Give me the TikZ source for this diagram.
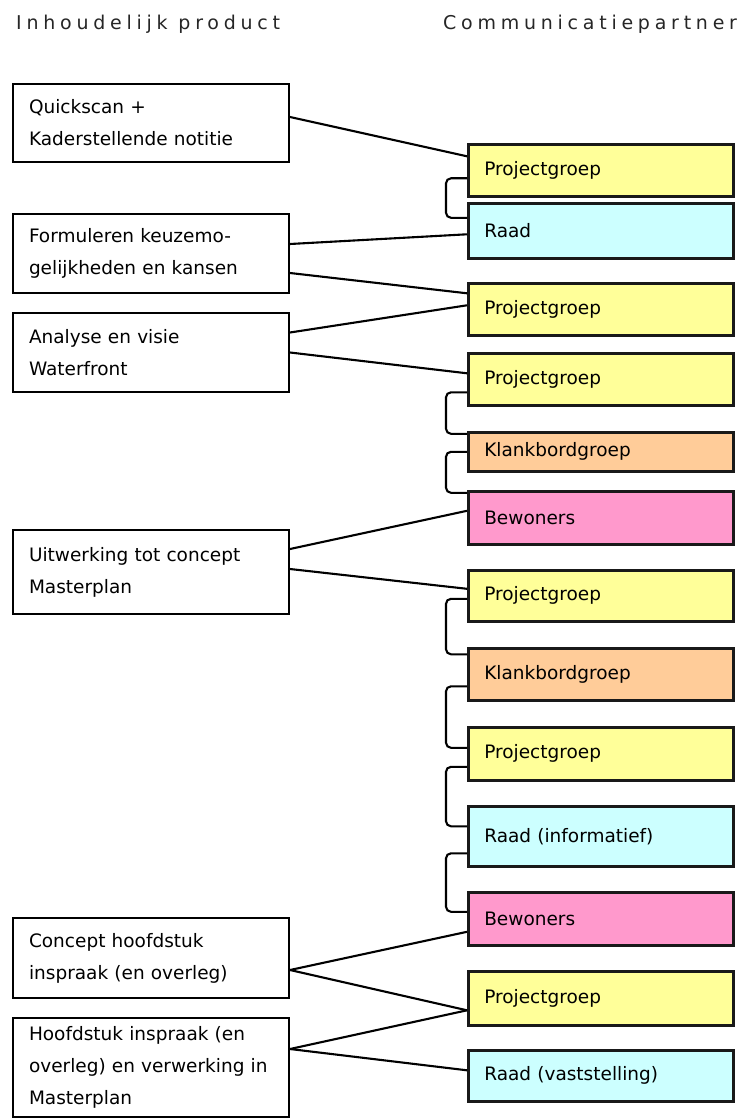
\documentclass[tikz,border=0pt]{standalone}
\usepackage{fontspec}
\setmainfont{DejaVu Sans}
\newfontfamily\titelfont[LetterSpace=25]{DejaVu Sans}
\definecolor{geel}{HTML}{FFFF99}
\definecolor{blauw}{HTML}{CCFFFF}
\definecolor{oranje}{HTML}{FFCC99}
\definecolor{roze}{HTML}{FF99CC}
\tikzset{
  kop/.style={anchor=base west, inner sep=0pt, text=black!85, font=\titelfont\fontsize{19}{22}\selectfont},
  product/.style={draw, line width=2pt, anchor=north west, minimum width=276pt,
    text width=244pt, inner xsep=16pt, inner ysep=0pt, align=left,
    font=\fontsize{18.5}{32}\selectfont},
  partner/.style={draw=black!90, line width=2.6pt, anchor=north west, minimum width=265pt,
    text width=233pt, inner xsep=16pt, inner ysep=0pt, align=left,
    font=\fontsize{18.5}{22}\selectfont},
  link/.style={line width=2.1pt},
  bracket/.style={line width=2.1pt, rounded corners=5pt,
    to path={-- ++(-21pt,0) |- (\tikztotarget)}}
}
\begin{document}
\begin{tikzpicture}[x=1pt,y=-1pt]
\useasboundingbox (0,0) rectangle (746,1118);

\node(kopProduct) at (16,30)[kop]  {Inhoudelijk product};
\node(kopPartner) at (443,30)[kop] {Communicatiepartner};

% inhoudelijk product
\node(quickscan)  at (12,83)[product,minimum height=78pt]   {Quickscan +\\Kaderstellende notitie};
\node(keuze)      at (12,213)[product,minimum height=79pt]  {Formuleren keuzemo-\\gelijkheden en kansen};
\node(analyse)    at (12,312)[product,minimum height=79pt]  {Analyse en visie\\Waterfront};
\node(uitwerking) at (12,529)[product,minimum height=84pt]  {Uitwerking tot concept\\Masterplan};
\node(concept)    at (12,917)[product,minimum height=80pt]  {Concept hoofdstuk\\inspraak (en overleg)};
\node(hoofdstuk)  at (12,1017)[product,minimum height=99pt] {Hoofdstuk inspraak (en\\overleg) en verwerking in\\Masterplan};

% communicatiepartner
\node(pg1)   at (467,143)[partner,fill=geel,minimum height=52pt]   {Projectgroep};
\node(raad1) at (467,202)[partner,fill=blauw,minimum height=55pt]  {Raad};
\node(pg2)   at (467,282)[partner,fill=geel,minimum height=52pt]   {Projectgroep};
\node(pg3)   at (467,352)[partner,fill=geel,minimum height=52pt]   {Projectgroep};
\node(kb1)   at (467,431)[partner,fill=oranje,minimum height=39pt] {Klankbordgroep};
\node(bew1)  at (467,490)[partner,fill=roze,minimum height=53pt]   {Bewoners};
\node(pg4)   at (467,569)[partner,fill=geel,minimum height=51pt]   {Projectgroep};
\node(kb2)   at (467,647)[partner,fill=oranje,minimum height=52pt] {Klankbordgroep};
\node(pg5)   at (467,726)[partner,fill=geel,minimum height=53pt]   {Projectgroep};
\node(raad2) at (467,805)[partner,fill=blauw,minimum height=60pt]  {Raad (informatief)};
\node(bew2)  at (467,891)[partner,fill=roze,minimum height=53pt]   {Bewoners};
\node(pg6)   at (467,970)[partner,fill=geel,minimum height=54pt]   {Projectgroep};
\node(raad3) at (467,1049)[partner,fill=blauw,minimum height=51pt] {Raad (vaststelling)};

\path [link]
  ([yshift=6pt]quickscan.east)    edge ([yshift=14pt]pg1.west)
  ([yshift=9.5pt]keuze.east)      edge ([yshift=-3.5pt]raad1.west)
  ([yshift=-19.5pt]keuze.east)    edge ([yshift=16pt]pg2.west)
  ([yshift=20pt]analyse.east)     edge ([yshift=4pt]pg2.west)
  (analyse.east)                  edge ([yshift=6pt]pg3.west)
  ([yshift=23pt]uitwerking.east)  edge ([yshift=7pt]bew1.west)
  ([yshift=3pt]uitwerking.east)   edge ([yshift=7pt]pg4.west)
  ([yshift=-12pt]concept.east)    edge ([yshift=-13pt]bew2.west)
  ([yshift=-12pt]concept.east)    edge ([yshift=-12pt]pg6.west)
  ([yshift=18.5pt]hoofdstuk.east) edge ([yshift=-12pt]pg6.west)
  ([yshift=18.5pt]hoofdstuk.east) edge ([yshift=5.5pt]raad3.west);

\path
  ([yshift=-8pt]pg1.west)   edge [bracket] ([yshift=13pt]raad1.west)
  ([yshift=-13pt]pg3.west)  edge [bracket] ([yshift=18pt]kb1.west)
  (kb1.west)                edge [bracket] ([yshift=25pt]bew1.west)
  ([yshift=-3pt]pg4.west)   edge [bracket] ([yshift=20pt]kb2.west)
  ([yshift=-12pt]kb2.west)  edge [bracket] ([yshift=6pt]pg5.west)
  ([yshift=-13pt]pg5.west)  edge [bracket] ([yshift=10pt]raad2.west)
  ([yshift=-17pt]raad2.west) edge [bracket] ([yshift=7pt]bew2.west);

\end{tikzpicture}
\end{document}
